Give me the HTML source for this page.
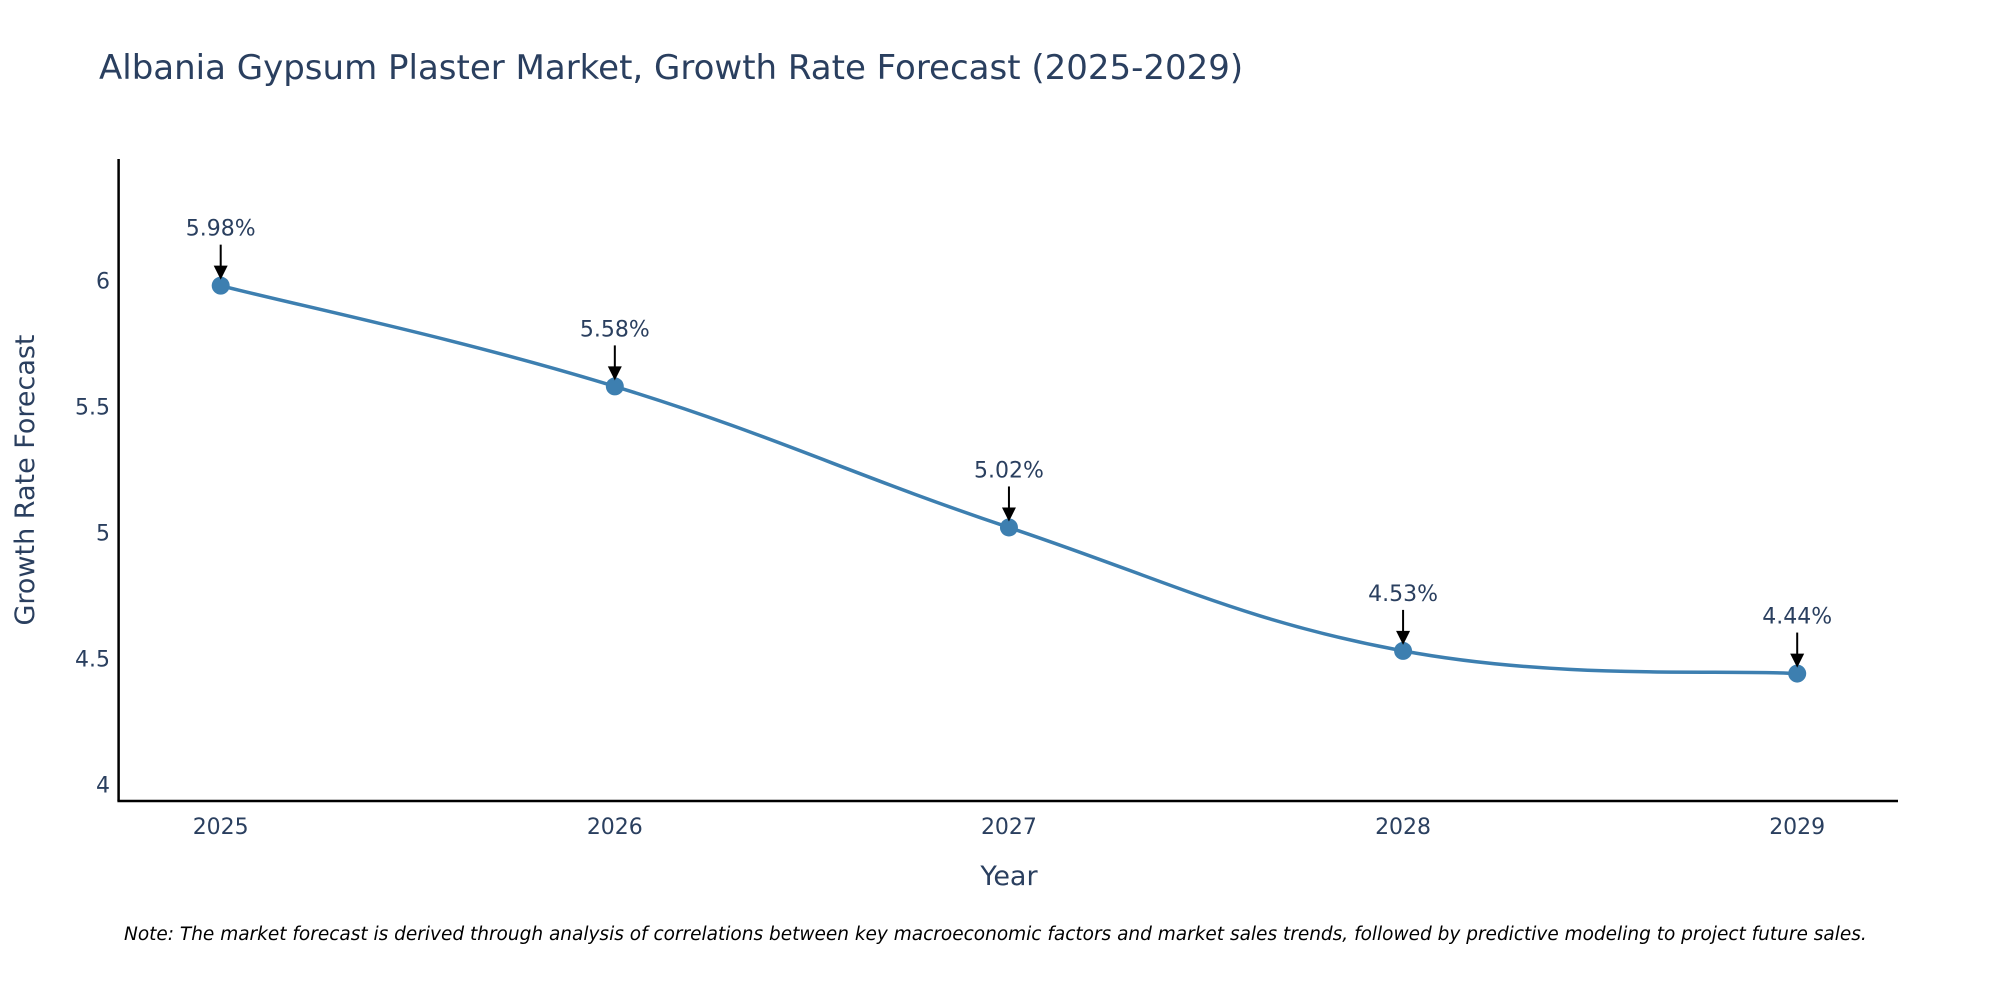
<!DOCTYPE html>
<html><head><meta charset="utf-8"><style>
body{margin:0;background:#fff;}
svg text{font-family:"DejaVu Sans","Liberation Sans",sans-serif;}
</style></head><body>
<svg width="2000" height="1000" viewBox="0 0 2000 1000" id="chart">
<text x="99" y="79" font-size="34" fill="#2a3f5f">Albania Gypsum Plaster Market, Growth Rate Forecast (2025-2029)</text>
<g id="axes"></g>
<g id="plot"></g>
<text x="24" y="480" font-size="27" fill="#2a3f5f" text-anchor="middle" transform="rotate(-90 24 480)" dy="10">Growth Rate Forecast</text>
<text x="1009" y="885" font-size="27" fill="#2a3f5f" text-anchor="middle">Year</text>
<text x="124" y="940" font-size="18.5" font-style="italic" fill="#000">Note: The market forecast is derived through analysis of correlations between key macroeconomic factors and market sales trends, followed by predictive modeling to project future sales.</text>
</svg>
<script>
const years=[2025,2026,2027,2028,2029];
const growth=[5.98,5.58,5.02,4.53,4.44];
const labels=["5.98%","5.58%","5.02%","4.53%","4.44%"];
const yTicks=[4,4.5,5,5.5,6];
const NS="http://www.w3.org/2000/svg";
function X(v){return 220.7+(v-2025)*(1797.2-220.7)/4;}
function Y(v){return 784.4-(v-4)*(784.4-280.6)/2;}
function mk(tag,attrs,parent){const e=document.createElementNS(NS,tag);for(const k in attrs)e.setAttribute(k,attrs[k]);parent.appendChild(e);return e;}
const axes=document.getElementById('axes'),plot=document.getElementById('plot');
let l=mk('line',{x1:118.6,y1:159,x2:118.6,y2:801,stroke:'#000','stroke-width':2.5},axes);


l=mk('line',{x1:117.4,y1:801,x2:1898,y2:801,stroke:'#000','stroke-width':2.5},axes);


yTicks.forEach(t=>{const e=mk('text',{x:110,y:Y(t)+8,'font-size':22,fill:'#2a3f5f','text-anchor':'end'},axes);e.textContent=String(t);

});
years.forEach(t=>{const e=mk('text',{x:X(t),y:834,'font-size':22,fill:'#2a3f5f','text-anchor':'middle'},axes);e.textContent=String(t);

});
const pts=years.map((y,i)=>[X(y),Y(growth[i])]);
let d='M'+pts[0][0]+','+pts[0][1];const s=0.2;
for(let i=0;i<pts.length-1;i++){const p0=pts[Math.max(0,i-1)],p1=pts[i],p2=pts[i+1],p3=pts[Math.min(pts.length-1,i+2)];
const c1=[p1[0]+(p2[0]-p0[0])*s,p1[1]+(p2[1]-p0[1])*s],c2=[p2[0]-(p3[0]-p1[0])*s,p2[1]-(p3[1]-p1[1])*s];
d+=' C'+c1+' '+c2+' '+p2;}
const line=mk('path',{d:d,fill:'none',stroke:'#3d7fb0','stroke-width':3.5},plot);


pts.forEach((p,i)=>{const c=mk('circle',{cx:p[0],cy:p[1],r:9,fill:'#3d7fb0'},plot);


const a=mk('line',{x1:p[0],y1:p[1]-41,x2:p[0],y2:p[1]-16,stroke:'#000','stroke-width':2},plot);


const h=mk('polygon',{points:(p[0]-7)+','+(p[1]-20)+' '+(p[0]+7)+','+(p[1]-20)+' '+p[0]+','+(p[1]-6),fill:'#000'},plot);


const t=mk('text',{x:p[0],y:p[1]-50,'font-size':22,fill:'#2a3f5f','text-anchor':'middle'},plot);t.textContent=labels[i];

});
</script>
</body></html>
